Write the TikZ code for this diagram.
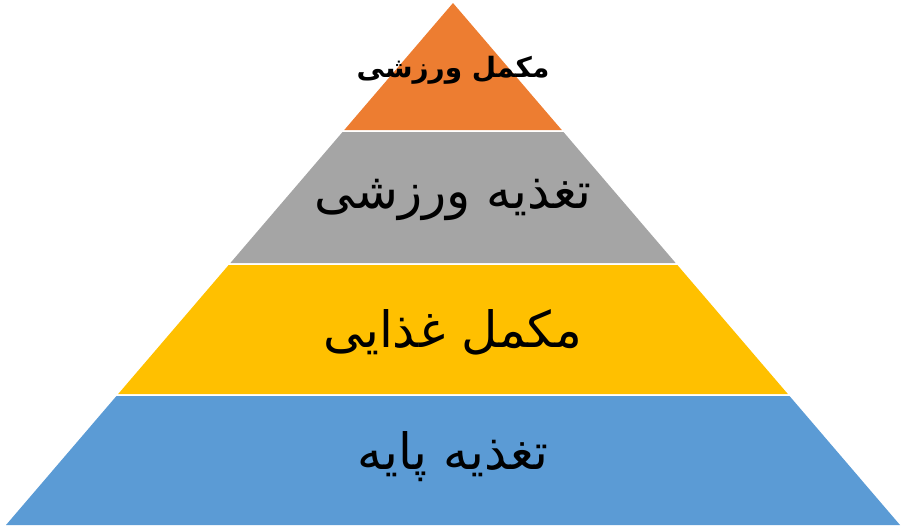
\documentclass[tikz,border=0pt]{standalone}
\usepackage{fontspec}
\TeXXeTstate=1
\newfontfamily\arabicfont[Script=Arabic]{DejaVu Sans}
\definecolor{layerorange}{HTML}{ED7D31}
\definecolor{layergray}{HTML}{A5A5A5}
\definecolor{layeryellow}{HTML}{FFC000}
\definecolor{layerblue}{HTML}{5B9BD5}
\begin{document}
\begin{tikzpicture}[x=1pt,y=-1pt,
  layertext/.style={font=\arabicfont\fontsize{50}{56}\selectfont, text=black, inner sep=0pt},
  toptext/.style={font=\arabicfont\bfseries\fontsize{28}{34}\selectfont, text=black, inner sep=0pt}]
\useasboundingbox (0,0) rectangle (906,528);
\fill[layerorange] (453,3) -- (561.75,130) -- (344.25,130) -- cycle;
\fill[layergray] (342.53,132) -- (563.47,132) -- (675.64,263) -- (230.36,263) -- cycle;
\fill[layeryellow] (228.64,265) -- (677.36,265) -- (787.82,394) -- (118.18,394) -- cycle;
\fill[layerblue] (116.47,396) -- (789.53,396) -- (900,525) -- (6,525) -- cycle;
\node[toptext] (t1) at (453,70) {\beginR مکمل ورزشی\endR};
\node[layertext] (t2) at (453,200) {\beginR تغذیه ورزشی\endR};
\node[layertext] (t3) at (453,332) {\beginR مکمل غذایی\endR};
\node[layertext] (t4) at (453,457) {\beginR تغذیه پایه\endR};
\end{tikzpicture}
\end{document}
